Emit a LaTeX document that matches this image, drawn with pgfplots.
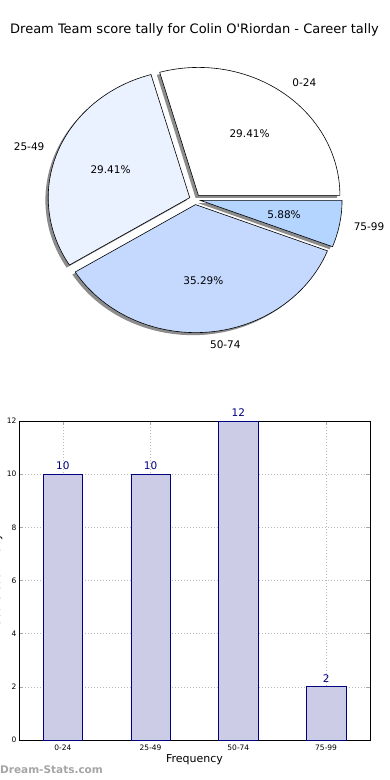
\documentclass[border=0pt]{standalone}
\usepackage{fontspec}
\setmainfont{DejaVu Sans}
\usepackage{pgfplots}
\pgfplotsset{compat=1.18}
\definecolor{sliceA}{RGB}{255,255,255}
\definecolor{sliceB}{RGB}{234,241,255}
\definecolor{sliceC}{RGB}{197,217,255}
\definecolor{sliceD}{RGB}{179,213,255}
\definecolor{barfill}{RGB}{204,204,230}
\definecolor{navyc}{RGB}{0,0,128}
\definecolor{shadowc}{RGB}{140,140,140}
\definecolor{wmark}{RGB}{165,165,165}
% counts per score band
\def\cA{10}\def\cB{10}\def\cC{12}\def\cD{2}
\newcommand\shadowslice[2]{%
  \pgfmathsetmacro\slM{(#1+#2)/2}%
  \pgfmathsetmacro\slOx{0.04*cos(\slM)-0.02}%
  \pgfmathsetmacro\slOy{0.04*sin(\slM)-0.02}%
  \pgfmathsetmacro\slSx{\slOx+cos(#1)}%
  \pgfmathsetmacro\slSy{\slOy+sin(#1)}%
  \fill[shadowc] (axis cs:\slOx,\slOy) -- (axis cs:\slSx,\slSy) arc[start angle=#1, end angle=#2, radius=1] -- cycle;%
}
\newcommand\pieslice[6]{% start, end, colour, label, percent, label anchor
  \pgfmathsetmacro\slM{(#1+#2)/2}%
  \pgfmathsetmacro\slOx{0.04*cos(\slM)}%
  \pgfmathsetmacro\slOy{0.04*sin(\slM)}%
  \pgfmathsetmacro\slSx{\slOx+cos(#1)}%
  \pgfmathsetmacro\slSy{\slOy+sin(#1)}%
  \pgfmathsetmacro\slLx{\slOx+1.1*cos(\slM)}%
  \pgfmathsetmacro\slLy{\slOy+1.1*sin(\slM)}%
  \pgfmathsetmacro\slPx{\slOx+0.6*cos(\slM)}%
  \pgfmathsetmacro\slPy{\slOy+0.6*sin(\slM)}%
  \filldraw[fill=#3, draw=black, line width=0.6pt, line join=miter] (axis cs:\slOx,\slOy) -- (axis cs:\slSx,\slSy) arc[start angle=#1, end angle=#2, radius=1] -- cycle;%
  \node[anchor=#6, inner sep=0pt, font=\fontsize{10.5}{12}\selectfont] at (axis cs:\slLx,\slLy) {#4};%
  \node[inner sep=0pt, font=\fontsize{10.5}{12}\selectfont] at (axis cs:\slPx,\slPy) {\pgfmathprintnumber[fixed,precision=2,fixed zerofill,assume math mode=true]{#5}\%};%
}
\begin{document}%
\begin{tikzpicture}
\pgfmathsetmacro\Tot{\cA+\cB+\cC+\cD}
\pgfmathsetmacro\aA{0}
\pgfmathsetmacro\aB{360*\cA/\Tot}
\pgfmathsetmacro\aC{\aB+360*\cB/\Tot}
\pgfmathsetmacro\aD{\aC+360*\cC/\Tot}
\pgfmathsetmacro\aE{360}
\pgfmathsetmacro\pA{100*\cA/\Tot}
\pgfmathsetmacro\pB{100*\cB/\Tot}
\pgfmathsetmacro\pC{100*\cC/\Tot}
\pgfmathsetmacro\pD{100*\cD/\Tot}
\path (0pt,0pt) rectangle (390pt,-780pt);
\node[font=\fontsize{13}{15}\selectfont] at (194.5pt,-30pt) {Dream Team score tally for Colin O\textquotesingle Riordan - Career tally};
% ---- pie chart ----
\begin{axis}[
  overlay,
  at={(195pt,-199.5pt)}, anchor=origin,
  x=141.5pt, y=128pt,
  xmin=-1.3, xmax=1.3, ymin=-1.3, ymax=1.3,
  hide axis, clip=false, disabledatascaling,
]
\addplot[draw=none] coordinates {(0,0)};
\pgfplotsextra{%
  \shadowslice{\aA}{\aB}%
  \shadowslice{\aB}{\aC}%
  \shadowslice{\aC}{\aD}%
  \shadowslice{\aD}{\aE}%
  \pieslice{\aA}{\aB}{sliceA}{0-24}{\pA}{west}%
  \pieslice{\aB}{\aC}{sliceB}{25-49}{\pB}{east}%
  \pieslice{\aC}{\aD}{sliceC}{50-74}{\pC}{west}%
  \pieslice{\aD}{\aE}{sliceD}{75-99}{\pD}{west}%
}
\end{axis}
% ---- bar chart ----
\begin{axis}[
  at={(19pt,-740pt)}, anchor=south west,
  width=351pt, height=319pt, scale only axis,
  xmin=-0.5, xmax=3.5, ymin=0, ymax=12,
  xtick={0,1,2,3}, xticklabels={0-24,25-49,50-74,75-99},
  ytick={0,2,4,6,8,10,12},
  /pgf/number format/assume math mode=true,
  tick label style={font=\fontsize{7.5}{8}\selectfont},
  xticklabel style={yshift=-1pt},
  yticklabel style={xshift=1pt},
  tick align=inside, xtick pos=both, ytick pos=both,
  major tick length=4pt,
  tick style={gray!70, line width=0.6pt},
  grid=major,
  grid style={gray!55, line width=0.6pt, dash pattern=on 1pt off 2pt},
  axis line style={black, line width=0.8pt},
]
\addplot[ybar, bar width=0.45, fill=barfill, draw=navyc, line width=0.7pt,
  nodes near coords,
  nodes near coords style={text=navyc, font=\fontsize{10.5}{12}\selectfont, anchor=south, inner sep=0pt, yshift=4pt, /pgf/number format/assume math mode=true}]
  coordinates {(0,10) (1,10) (2,12) (3,2)};
\end{axis}
\node[overlay, rotate=90, font=\fontsize{11}{13}\selectfont] at (-3pt,-580.5pt) {Score count tally};
\node[font=\fontsize{11}{13}\selectfont] at (194.5pt,-760pt) {Frequency};
\node[anchor=west, inner sep=0pt, text=wmark, font=\fontsize{10.5}{12}\selectfont\bfseries] at (0pt,-770pt) {Dream-Stats.com};
\end{tikzpicture}%
\end{document}
